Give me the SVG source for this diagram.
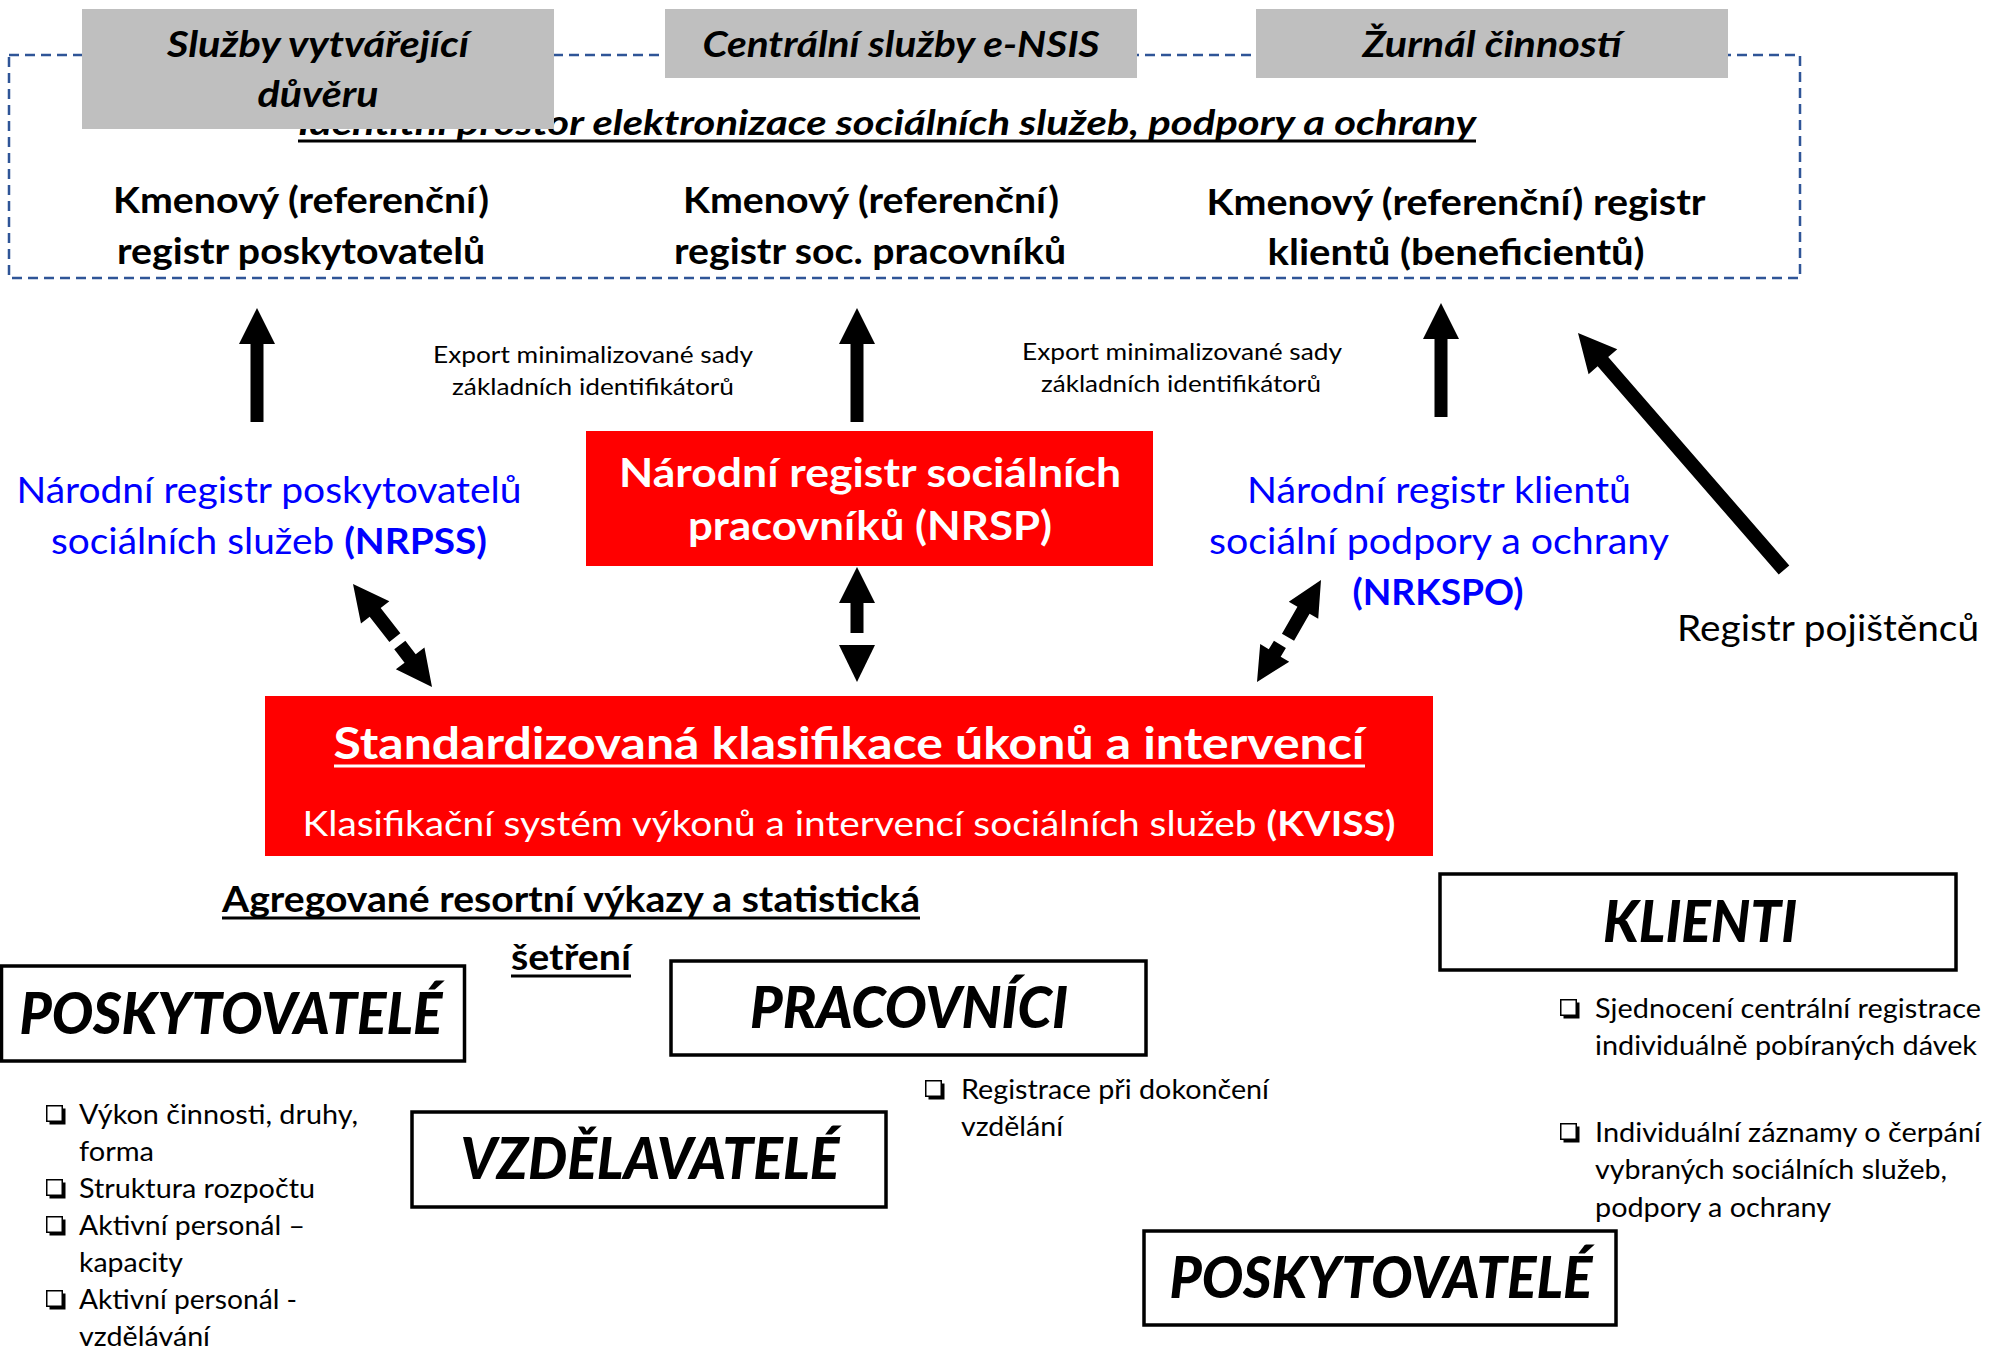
<svg xmlns="http://www.w3.org/2000/svg" xmlns:xlink="http://www.w3.org/1999/xlink" width="1998" height="1355" viewBox="0 0 1998 1355">
<style>
text{font-family:Lato,"Open Sans","Liberation Sans",sans-serif;fill:#000}
.b{font-weight:700}
.i{font-style:italic}
.h{font-weight:900;font-style:italic}
.blue{fill:#0000FF}
.w{fill:#fff}
.gray{fill:#BFBFBF}
.red{fill:#FF0000}
.box{fill:#fff;stroke:#000;stroke-width:3.5}
.arrow{fill:#000}
.ul{stroke:#000;stroke-width:3}
.ulw{stroke:#fff;stroke-width:3}
.dash{fill:none;stroke:#2F5597;stroke-width:2.5;stroke-dasharray:10 6}
</style>
<defs>
<g id="cbx"><rect x="3.5" y="3.5" width="16" height="16" fill="#000"/><rect x="0.75" y="0.75" width="15.5" height="15.5" fill="#fff" stroke="#000" stroke-width="1.5"/></g>
</defs>
<rect width="1998" height="1355" fill="#fff"/>
<g id="identity-space">
<rect class="dash" x="9" y="55" width="1791" height="223"/>
<text x="887" y="135" class="b i" font-size="35" text-anchor="middle" textLength="1178" lengthAdjust="spacingAndGlyphs">Identitní prostor elektronizace sociálních služeb, podpory a ochrany</text>
<line class="ul" x1="298" y1="141" x2="1476" y2="141"/>
</g>
<g id="trust-services">
<rect class="gray" x="82" y="9" width="472" height="120"/>
<text x="318" y="57" class="b i" font-size="37" text-anchor="middle" textLength="302" lengthAdjust="spacingAndGlyphs">Služby vytvářející</text>
<text x="318" y="107" class="b i" font-size="37" text-anchor="middle" textLength="121" lengthAdjust="spacingAndGlyphs">důvěru</text>
</g>
<g id="central-services">
<rect class="gray" x="665" y="9" width="472" height="69"/>
<text x="901" y="57" class="b i" font-size="37" text-anchor="middle" textLength="397" lengthAdjust="spacingAndGlyphs">Centrální služby e-NSIS</text>
</g>
<g id="journal">
<rect class="gray" x="1256" y="9" width="472" height="69"/>
<text x="1492" y="57" class="b i" font-size="37" text-anchor="middle" textLength="259" lengthAdjust="spacingAndGlyphs">Žurnál činností</text>
</g>
<g id="master-providers">
<text x="301" y="213" class="b" font-size="36" text-anchor="middle" textLength="376" lengthAdjust="spacingAndGlyphs">Kmenový (referenční)</text>
<text x="301" y="264" class="b" font-size="36" text-anchor="middle" textLength="368" lengthAdjust="spacingAndGlyphs">registr poskytovatelů</text>
</g>
<g id="master-workers">
<text x="871" y="213" class="b" font-size="36" text-anchor="middle" textLength="376" lengthAdjust="spacingAndGlyphs">Kmenový (referenční)</text>
<text x="870" y="264" class="b" font-size="36" text-anchor="middle" textLength="392" lengthAdjust="spacingAndGlyphs">registr soc. pracovníků</text>
</g>
<g id="master-clients">
<text x="1456" y="215" class="b" font-size="36" text-anchor="middle" textLength="499" lengthAdjust="spacingAndGlyphs">Kmenový (referenční) registr</text>
<text x="1456" y="265" class="b" font-size="36" text-anchor="middle" textLength="377" lengthAdjust="spacingAndGlyphs">klientů (beneficientů)</text>
</g>
<g id="export-label-1">
<text x="593" y="363" font-size="24" text-anchor="middle" textLength="320" lengthAdjust="spacingAndGlyphs">Export minimalizované sady</text>
<text x="593" y="395" font-size="24" text-anchor="middle" textLength="282" lengthAdjust="spacingAndGlyphs">základních identifikátorů</text>
</g>
<g id="export-label-2">
<text x="1182" y="360" font-size="24" text-anchor="middle" textLength="320" lengthAdjust="spacingAndGlyphs">Export minimalizované sady</text>
<text x="1181" y="392" font-size="24" text-anchor="middle" textLength="280" lengthAdjust="spacingAndGlyphs">základních identifikátorů</text>
</g>
<g id="nrpss">
<text x="269" y="503" class="blue" font-size="37" text-anchor="middle" textLength="505" lengthAdjust="spacingAndGlyphs">Národní registr poskytovatelů</text>
<text x="269" y="554" class="blue" font-size="37" text-anchor="middle" textLength="436" lengthAdjust="spacingAndGlyphs">sociálních služeb <tspan class="b blue">(NRPSS)</tspan></text>
</g>
<g id="nrsp">
<rect class="red" x="586" y="431" width="567" height="135"/>
<text x="870" y="487" class="b w" font-size="40" text-anchor="middle" textLength="502" lengthAdjust="spacingAndGlyphs">Národní registr sociálních</text>
<text x="870" y="540" class="b w" font-size="40" text-anchor="middle" textLength="364" lengthAdjust="spacingAndGlyphs">pracovníků (NRSP)</text>
</g>
<g id="nrkspo">
<text x="1439" y="503" class="blue" font-size="37" text-anchor="middle" textLength="384" lengthAdjust="spacingAndGlyphs">Národní registr klientů</text>
<text x="1439" y="554" class="blue" font-size="37" text-anchor="middle" textLength="460" lengthAdjust="spacingAndGlyphs">sociální podpory a ochrany</text>
<text x="1438" y="605" class="b blue" font-size="37" text-anchor="middle" textLength="171" lengthAdjust="spacingAndGlyphs">(NRKSPO)</text>
</g>
<g id="insured-register">
<text x="1677" y="641" font-size="37" textLength="302" lengthAdjust="spacingAndGlyphs">Registr pojištěnců</text>
</g>
<g id="kviss">
<rect class="red" x="265" y="696" width="1168" height="160"/>
<text x="849" y="759" class="b w" font-size="43" text-anchor="middle" textLength="1031" lengthAdjust="spacingAndGlyphs">Standardizovaná klasifikace úkonů a intervencí</text>
<line class="ulw" x1="334" y1="766" x2="1365" y2="766"/>
<text x="849" y="836" class="w" font-size="34" text-anchor="middle" textLength="1093" lengthAdjust="spacingAndGlyphs">Klasifikační systém výkonů a intervencí sociálních služeb <tspan class="b w">(KVISS)</tspan></text>
</g>
<g id="aggregated">
<text x="571" y="912" class="b" font-size="36" text-anchor="middle" textLength="698" lengthAdjust="spacingAndGlyphs">Agregované resortní výkazy a statistická</text>
<line class="ul" x1="222" y1="918" x2="920" y2="918"/>
<text x="571" y="970" class="b" font-size="36" text-anchor="middle" textLength="120" lengthAdjust="spacingAndGlyphs">šetření</text>
<line class="ul" x1="511" y1="976" x2="631" y2="976"/>
</g>
<g id="providers-1">
<rect class="box" x="1.5" y="966" width="463" height="95"/>
<text x="231" y="1034" class="h" font-size="57" text-anchor="middle" textLength="423" lengthAdjust="spacingAndGlyphs">POSKYTOVATELÉ</text>
</g>
<g id="providers-1-list">
<use xlink:href="#cbx" x="46" y="1105"/>
<use xlink:href="#cbx" x="46" y="1179"/>
<use xlink:href="#cbx" x="46" y="1216"/>
<use xlink:href="#cbx" x="46" y="1290"/>
<text x="79" y="1124" font-size="27" textLength="279" lengthAdjust="spacingAndGlyphs">Výkon činnosti, druhy,</text>
<text x="79" y="1161" font-size="27" textLength="75" lengthAdjust="spacingAndGlyphs">forma</text>
<text x="79" y="1198" font-size="27" textLength="236" lengthAdjust="spacingAndGlyphs">Struktura rozpočtu</text>
<text x="79" y="1235" font-size="27" textLength="226" lengthAdjust="spacingAndGlyphs">Aktivní personál –</text>
<text x="79" y="1272" font-size="27" textLength="104" lengthAdjust="spacingAndGlyphs">kapacity</text>
<text x="79" y="1309" font-size="27" textLength="218" lengthAdjust="spacingAndGlyphs">Aktivní personál -</text>
<text x="79" y="1346" font-size="27" textLength="131" lengthAdjust="spacingAndGlyphs">vzdělávání</text>
</g>
<g id="workers">
<rect class="box" x="671" y="961" width="475" height="94"/>
<text x="909" y="1028" class="h" font-size="57" text-anchor="middle" textLength="318" lengthAdjust="spacingAndGlyphs">PRACOVNÍCI</text>
</g>
<g id="workers-list">
<use xlink:href="#cbx" x="925" y="1080"/>
<text x="961" y="1099" font-size="27" textLength="308" lengthAdjust="spacingAndGlyphs">Registrace při dokončení</text>
<text x="961" y="1136" font-size="27" textLength="102" lengthAdjust="spacingAndGlyphs">vzdělání</text>
</g>
<g id="educators">
<rect class="box" x="412" y="1112" width="474" height="95"/>
<text x="650" y="1179" class="h" font-size="57" text-anchor="middle" textLength="379" lengthAdjust="spacingAndGlyphs">VZDĚLAVATELÉ</text>
</g>
<g id="clients">
<rect class="box" x="1440" y="874" width="516" height="96"/>
<text x="1700" y="942" class="h" font-size="57" text-anchor="middle" textLength="194" lengthAdjust="spacingAndGlyphs">KLIENTI</text>
</g>
<g id="clients-list">
<use xlink:href="#cbx" x="1560" y="999"/>
<use xlink:href="#cbx" x="1560" y="1123"/>
<text x="1595" y="1018" font-size="27" textLength="386" lengthAdjust="spacingAndGlyphs">Sjednocení centrální registrace</text>
<text x="1595" y="1055" font-size="27" textLength="382" lengthAdjust="spacingAndGlyphs">individuálně pobíraných dávek</text>
<text x="1595" y="1142" font-size="27" textLength="386" lengthAdjust="spacingAndGlyphs">Individuální záznamy o čerpání</text>
<text x="1595" y="1179" font-size="27" textLength="352" lengthAdjust="spacingAndGlyphs">vybraných sociálních služeb,</text>
<text x="1595" y="1217" font-size="27" textLength="236" lengthAdjust="spacingAndGlyphs">podpory a ochrany</text>
</g>
<g id="providers-2">
<rect class="box" x="1144" y="1231" width="472" height="94"/>
<text x="1381" y="1298" class="h" font-size="57" text-anchor="middle" textLength="423" lengthAdjust="spacingAndGlyphs">POSKYTOVATELÉ</text>
</g>
<g id="connectors">
<polygon class="arrow" points="0,0 18,36 6.5,36 6.5,114 -6.5,114 -6.5,36 -18,36" transform="translate(257,308)"/>
<polygon class="arrow" points="0,0 18,36 6.5,36 6.5,114 -6.5,114 -6.5,36 -18,36" transform="translate(857,308)"/>
<polygon class="arrow" points="0,0 18,36 6.5,36 6.5,114 -6.5,114 -6.5,36 -18,36" transform="translate(1441,303)"/>
<polygon class="arrow" points="0,0 19,38 7,38 7,314 -7,314 -7,38 -19,38" transform="translate(1578,333) rotate(-41)"/>
<polygon class="arrow" points="0,0 18,36 7,36 7,68 -7,68 -7,36 -18,36" transform="translate(353,584) rotate(-38)"/>
<polygon class="arrow" points="0,0 18,36 7,36 7,53 -7,53 -7,36 -18,36" transform="translate(432,687) rotate(142.6)"/>
<polygon class="arrow" points="0,0 18,36 6.5,36 6.5,66 -6.5,66 -6.5,36 -18,36" transform="translate(857,567)"/>
<polygon class="arrow" points="0,0 18,37 -18,37" transform="translate(857,682) rotate(180)"/>
<polygon class="arrow" points="0,0 17,35 7,35 7,66 -7,66 -7,35 -17,35" transform="translate(1321,580) rotate(30)"/>
<polygon class="arrow" points="0,0 17,34 7,34 7,44 -7,44 -7,34 -17,34" transform="translate(1257,682) rotate(-148.6)"/>
</g>
</svg>
